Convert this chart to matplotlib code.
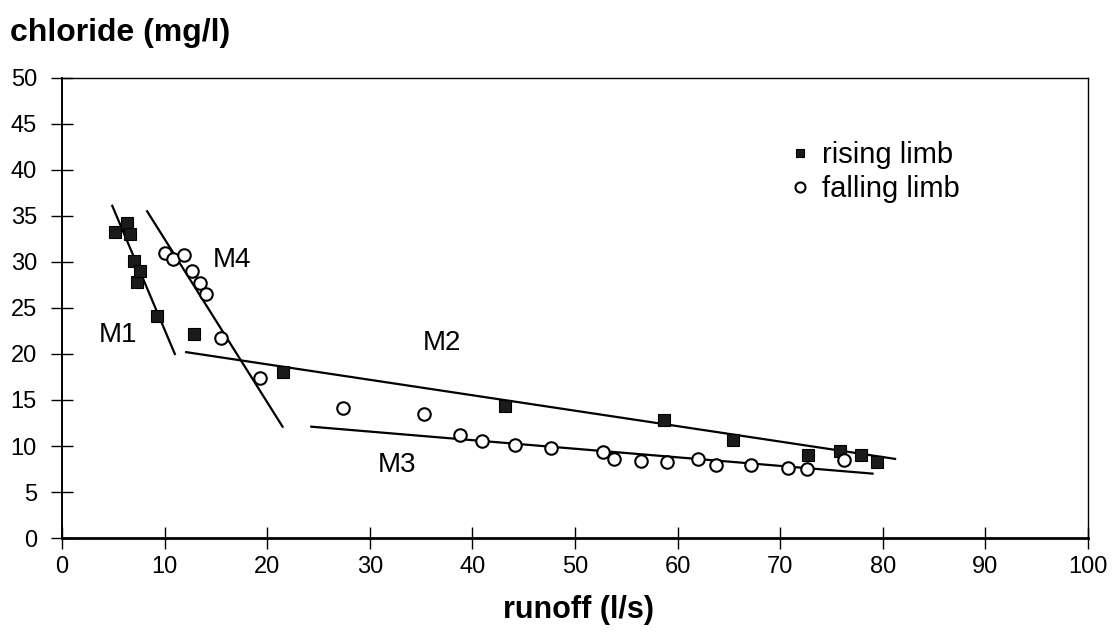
import matplotlib
matplotlib.use("Agg")
import matplotlib.pyplot as plt

plt.rcParams['font.family'] = ['Liberation Sans', 'DejaVu Sans']

# rising limb samples (runoff l/s, chloride mg/l)
rising_runoff = [5.2, 6.3, 6.6, 7.0, 7.3, 7.6, 9.3, 12.9, 21.5, 43.2, 58.7, 65.4, 72.7, 75.8, 77.9, 79.4]
rising_chloride = [33.2, 34.2, 33.0, 30.1, 27.8, 29.0, 24.1, 22.2, 18.0, 14.4, 12.8, 10.6, 9.0, 9.5, 9.0, 8.3]

# falling limb samples
falling_runoff = [10.0, 10.8, 11.9, 12.7, 13.5, 14.0, 15.5, 19.3, 27.4, 35.3, 38.8, 40.9, 44.2,
                  47.7, 52.7, 53.8, 56.4, 59.0, 62.0, 63.7, 67.2, 70.8, 72.6, 76.2]
falling_chloride = [31.0, 30.3, 30.8, 29.0, 27.7, 26.5, 21.7, 17.4, 14.1, 13.5, 11.2, 10.5, 10.1,
                    9.8, 9.3, 8.6, 8.4, 8.3, 8.6, 7.9, 7.9, 7.6, 7.5, 8.5]

# mixing lines (end points)
mix_names = ["M1", "M2", "M3", "M4"]
mix_runoff = [[4.9, 11.0], [12.1, 81.2], [24.3, 79.0], [8.3, 21.5]]
mix_chloride = [[36.1, 20.0], [20.2, 8.6], [12.1, 7.0], [35.5, 12.1]]
mix_label_pos = [(5.5, 22.1), (37.0, 21.2), (32.7, 7.9), (16.6, 30.2)]

x_ticks = list(range(0, 101, 10))
y_ticks = list(range(0, 51, 5))

fig = plt.figure(figsize=(11.13, 6.33), dpi=100)
ax = fig.add_axes([0.0557, 0.150, 0.9218, 0.727])

for xs, ys in zip(mix_runoff, mix_chloride):
    ax.plot(xs, ys, color="black", lw=1.6, zorder=2)

ax.plot(rising_runoff, rising_chloride, ls="none", marker="s", ms=8,
        mfc="#1a1a1a", mec="black", mew=0.8, zorder=3, label="rising limb")
ax.plot(falling_runoff, falling_chloride, ls="none", marker="o", ms=9,
        mfc="white", mec="black", mew=1.5, zorder=3, label="falling limb")

for name, (lx, ly) in zip(mix_names, mix_label_pos):
    ax.text(lx, ly, name, fontsize=20, ha="center", va="center")

ax.set_xlim(0, 100)
ax.set_ylim(0, 50)
ax.set_xticks(x_ticks)
ax.set_yticks(y_ticks)
ax.tick_params(axis="both", direction="inout", length=16, width=1.0,
               labelsize=17, color="black")
ax.tick_params(axis="y", pad=10)
ax.tick_params(axis="x", pad=5)

for side in ["top", "right"]:
    ax.spines[side].set_linewidth(1.0)
ax.spines["left"].set_linewidth(1.4)
ax.spines["bottom"].set_linewidth(2.0)

leg = ax.legend(loc="upper left", bbox_to_anchor=(0.712, 0.862), frameon=False,
                fontsize=21, handlelength=0.5, handletextpad=0.5,
                labelspacing=0.2, borderpad=0, borderaxespad=0, markerscale=0.8)

fig.text(0.009, 0.948, "chloride (mg/l)", fontsize=23, fontweight="bold",
         ha="left", va="center")
fig.text(0.52, 0.036, "runoff (l/s)", fontsize=22, fontweight="bold",
         ha="center", va="center")

fig.savefig("out.png", dpi=100)
